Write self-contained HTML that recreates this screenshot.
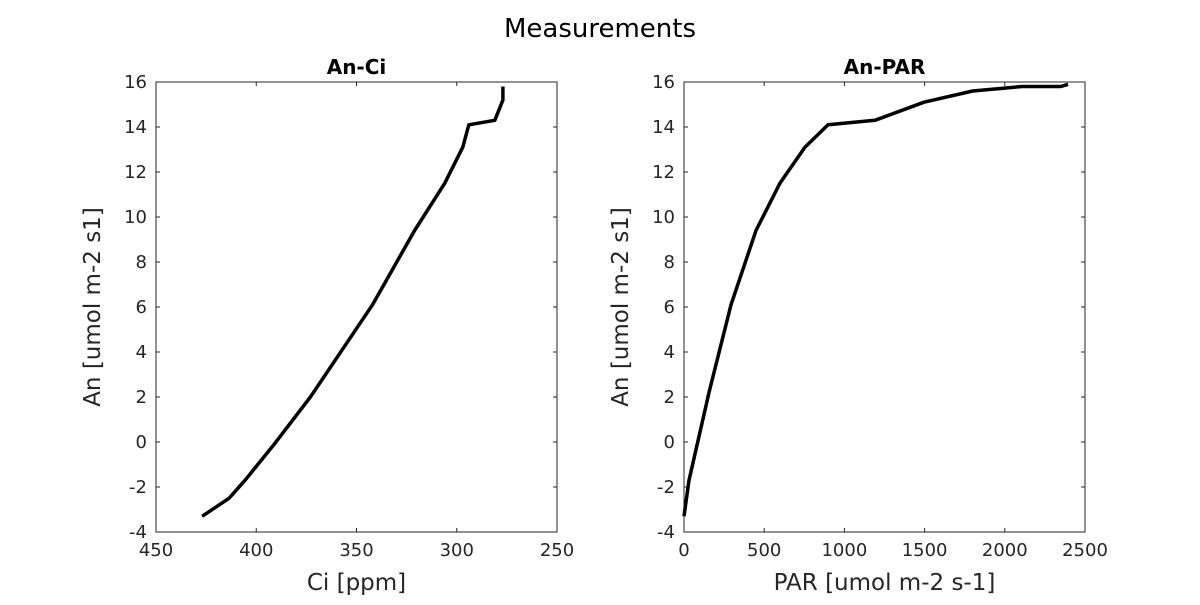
<!DOCTYPE html>
<html><head><meta charset="utf-8"><style>
body{margin:0;background:#fff;}
svg{font-family:"DejaVu Sans","Liberation Sans",sans-serif;}
</style></head><body>
<svg id="chart" width="1200" height="600"></svg>
<script>
const ciVals=[427,413.6,405.6,390.6,373,342,321,306,297,294,281,277,277];
const anCi=[-3.3,-2.5,-1.7,-0.05,2,6.1,9.4,11.5,13.1,14.1,14.3,15.2,15.8];
const parVals=[0,31,156,293,449,598,754,898,1191,1496,1800,2107,2350,2394];
const anPar=[-3.3,-1.7,2.2,6.1,9.4,11.5,13.1,14.1,14.3,15.1,15.6,15.8,15.8,15.9];
const yTicks=[-4,-2,0,2,4,6,8,10,12,14,16];
const ciTicks=[450,400,350,300,250];
const parTicks=[0,500,1000,1500,2000,2500];

const svg=document.getElementById('chart');
const NS='http://www.w3.org/2000/svg';
function mk(tag,attrs,parent){const e=document.createElementNS(NS,tag);for(const k in attrs)e.setAttribute(k,attrs[k]);(parent||svg).appendChild(e);return e;}
const yTop=82,yBot=532;
const ys=v=>yBot-(v+4)/20*(yBot-yTop);

const title=mk('text',{x:600,y:37,'text-anchor':'middle','font-size':26,fill:'#000'});
title.textContent='Measurements';



function panel(name,x0,x1,xmin,xmax,ticks,xs,ys2,ttl,xlabel){
  const g=mk('g',{});
  
  
  const xs_=v=>x0+(v-xmin)/(xmax-xmin)*(x1-x0);
  mk('rect',{x:x0,y:yTop,width:x1-x0,height:yBot-yTop,fill:'#fff',stroke:'#262626','stroke-width':1},g);
  ticks.forEach(t=>{
    const x=xs_(t);
    mk('line',{x1:x,x2:x,y1:yBot,y2:yBot-4,stroke:'#262626'},g);
    mk('line',{x1:x,x2:x,y1:yTop,y2:yTop+4,stroke:'#262626'},g);
    const tx=mk('text',{x:x,y:yBot+24,'text-anchor':'middle','font-size':18,fill:'#262626'},g);
    tx.textContent=t;
    
    
  });
  yTicks.forEach(t=>{
    const y=ys(t);
    mk('line',{x1:x0,x2:x0+4,y1:y,y2:y,stroke:'#262626'},g);
    mk('line',{x1:x1,x2:x1-4,y1:y,y2:y,stroke:'#262626'},g);
    const ty=mk('text',{x:x0-9,y:y+6,'text-anchor':'end','font-size':18,fill:'#262626'},g);
    ty.textContent=t;
    
    
  });
  const pts=xs.map((v,i)=>xs_(v).toFixed(1)+','+ys(ys2[i]).toFixed(1)).join(' ');
  const pl=mk('polyline',{points:pts,fill:'none',stroke:'#000','stroke-width':3.5,'stroke-linejoin':'round'},g);
  
  
  const t=mk('text',{x:(x0+x1)/2,y:yTop-8,'text-anchor':'middle','font-size':20,'font-weight':'bold',fill:'#000'},g);
  t.textContent=ttl;
  
  
  const xl=mk('text',{x:(x0+x1)/2,y:590,'text-anchor':'middle','font-size':23,fill:'#262626'},g);
  xl.textContent=xlabel;
  
  
  const yl=mk('text',{x:0,y:0,'text-anchor':'middle','font-size':23,fill:'#262626',transform:`translate(${x0-56},${(yTop+yBot)/2}) rotate(-90)`},g);
  yl.textContent='An [umol m-2 s1]';
  
  
}
panel('an-ci',156,557,450,250,ciTicks,ciVals,anCi,'An-Ci','Ci [ppm]');
panel('an-par',684,1085,0,2500,parTicks,parVals,anPar,'An-PAR','PAR [umol m-2 s-1]');
</script>
</body></html>
